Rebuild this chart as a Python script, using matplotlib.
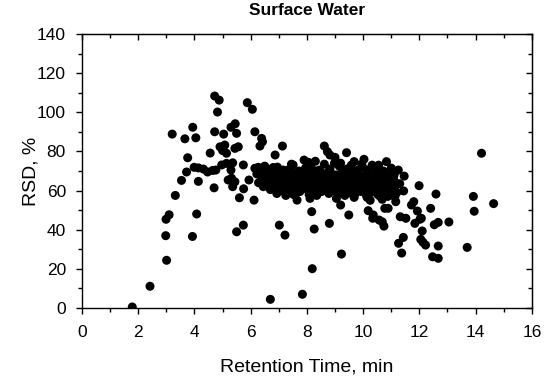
import matplotlib
matplotlib.use("Agg")
import matplotlib.pyplot as plt
import numpy as np

plt.rcParams['font.family'] = ['Liberation Sans', 'DejaVu Sans']

title = "Surface Water"
xlabel = "Retention Time, min"
ylabel = "RSD, %"

# Sparse / outlying points (retention time, RSD)
sparse_x = [1.79, 2.42, 3.01, 2.98, 3.93, 2.99, 3.10, 4.08, 3.32, 3.54, 3.72, 4.14, 3.76, 3.21, 3.66, 4.05, 3.94, 4.56,
            3.99, 4.14, 4.32, 4.47, 4.65, 4.76, 4.70, 4.72, 4.88, 4.82, 4.72, 5.04, 5.30, 5.45, 5.50,
            4.91, 5.08, 5.14, 5.44, 5.56, 5.00, 4.97, 5.14, 5.36, 5.30, 5.32, 5.44, 5.36, 5.20, 5.60, 5.50, 5.74,
            5.88, 6.06, 6.15, 6.39, 6.42, 6.33, 7.13, 6.87, 5.74, 5.94, 5.75, 6.12, 6.15, 6.27,
            7.02, 7.22, 6.70, 7.84, 8.19, 9.23, 8.17, 8.26, 8.80, 9.49, 10.18, 10.36, 10.34, 10.57, 7.65, 8.11, 9.20, 9.68, 10.14,
            8.62, 8.73, 8.82, 9.00, 9.41, 9.68, 10.03, 7.90, 7.51,
            14.21, 14.64, 13.92, 13.95, 13.70, 13.05, 12.59, 12.40, 12.67, 12.53, 12.67, 12.47, 12.67, 11.99, 11.93, 12.07, 12.02,
            11.84, 12.10, 12.05, 12.13, 12.22, 11.72, 11.80, 11.44, 11.46, 11.32, 11.52, 11.43, 11.26, 11.37,
            10.83, 11.13, 11.25, 11.13, 11.16, 10.89, 10.77, 10.68, 10.74,
            7.45, 8.30, 9.20, 9.95, 8.05, 10.55]
sparse_y = [0.4, 11.0, 24.3, 36.9, 36.5, 45.3, 47.6, 48.0, 57.5, 65.2, 69.5, 64.7, 76.8, 88.9, 86.5, 87.0, 92.4, 79.2,
            71.9, 71.6, 71.0, 69.5, 70.3, 70.5, 61.4, 108.4, 106.3, 100.2, 90.1, 88.9, 92.4, 94.2, 89.3,
            82.4, 83.3, 79.1, 81.6, 82.4, 80.5, 73.1, 73.9, 74.2, 70.5, 66.3, 64.5, 62.0, 65.4, 56.3, 38.9, 42.3,
            105.0, 101.6, 90.1, 86.7, 85.0, 82.8, 82.8, 78.2, 73.1, 65.4, 60.9, 55.1, 71.4, 71.9,
            42.3, 37.2, 4.3, 6.9, 20.0, 27.5, 49.2, 40.3, 43.2, 47.5, 49.7, 47.5, 45.8, 44.9, 55.1, 56.0, 52.6, 56.5, 56.5,
            82.8, 79.9, 78.2, 77.0, 79.4, 74.8, 76.0, 75.6, 73.1,
            79.1, 53.3, 57.0, 49.4, 30.9, 43.9, 58.2, 50.9, 43.7, 42.5, 31.6, 26.1, 25.3, 62.5, 49.5, 45.8, 45.3,
            43.2, 39.3, 35.0, 33.5, 32.1, 52.6, 54.3, 59.8, 67.4, 46.6, 45.8, 36.0, 33.0, 28.0,
            74.8, 69.6, 70.5, 56.8, 54.3, 50.9, 50.9, 44.0, 41.8,
            73.5, 75.0, 74.0, 73.5, 74.5, 73.0]

# Dense band of points (6-11.3 min, ~55-75 %)
band_x = [6.22, 6.28, 6.35, 6.40, 6.45, 6.50, 6.55, 6.58, 6.62, 6.66, 6.70, 6.73, 6.78, 6.82, 6.85, 6.90, 6.93, 6.97,
          7.00, 7.04, 7.07, 7.10, 7.14, 7.18, 7.21, 7.25, 7.28, 7.32, 7.35, 7.38, 7.42, 7.45, 7.48, 7.52, 7.55, 7.58,
          7.62, 7.65, 7.68, 7.72, 7.75, 7.78, 7.82, 7.85, 7.88, 7.92, 7.95, 7.98,
          8.02, 8.05, 8.08, 8.12, 8.15, 8.18, 8.22, 8.25, 8.28, 8.32, 8.35, 8.38, 8.42, 8.45, 8.48, 8.52, 8.55, 8.58,
          8.62, 8.65, 8.68, 8.72, 8.75, 8.78, 8.82, 8.85, 8.88, 8.92, 8.95, 8.98,
          9.02, 9.05, 9.08, 9.12, 9.15, 9.18, 9.22, 9.25, 9.28, 9.32, 9.35, 9.38, 9.42, 9.45, 9.48, 9.52, 9.55, 9.58,
          9.62, 9.65, 9.68, 9.72, 9.75, 9.78, 9.82, 9.85, 9.88, 9.92, 9.95, 9.98,
          10.02, 10.05, 10.08, 10.12, 10.15, 10.18, 10.22, 10.25, 10.28, 10.32, 10.35, 10.38, 10.42, 10.45, 10.48,
          10.52, 10.55, 10.58, 10.62, 10.65, 10.68, 10.72, 10.75, 10.78, 10.82, 10.85, 10.88, 10.92, 10.95, 10.98,
          11.02, 11.05, 11.08, 11.12, 11.15, 11.20,
          6.50, 6.80, 7.05, 7.30, 7.50, 7.70, 7.90, 8.10, 8.30, 8.50, 8.70, 8.90, 9.10, 9.30, 9.50, 9.70, 9.90,
          10.10, 10.30, 10.50, 10.70, 10.90, 11.10, 7.15, 7.45, 7.75, 8.05, 8.35, 8.65, 8.95, 9.25, 9.55, 9.85,
          10.15, 10.45, 10.75, 11.00, 6.95, 7.25, 7.60, 8.40, 9.05, 9.60, 10.25, 10.60, 11.30]
band_y = [68.5, 64.0, 70.0, 66.5, 62.0, 68.0, 65.0, 71.0, 63.5, 67.5, 60.5, 65.5, 69.5, 62.5, 66.0, 64.0, 58.5, 67.0,
          63.0, 69.0, 65.5, 61.0, 67.5, 64.0, 59.5, 66.5, 62.5, 70.5, 64.5, 60.0, 67.0, 63.0, 65.5, 58.0, 68.5, 61.5,
          64.5, 66.5, 62.0, 70.0, 59.5, 65.0, 63.0, 67.5, 61.0, 64.0, 71.5, 66.0,
          62.5, 68.5, 58.0, 65.0, 72.0, 63.5, 67.0, 60.5, 69.5, 64.5, 57.5, 66.5, 62.0, 70.5, 65.0, 59.5, 67.5, 63.0,
          73.5, 61.0, 66.0, 69.0, 64.0, 58.5, 71.0, 62.5, 67.5, 65.5, 60.0, 74.0,
          63.5, 68.0, 61.0, 66.0, 72.5, 59.0, 64.5, 69.5, 62.0, 67.0, 57.5, 65.0, 71.0, 63.0, 68.5, 60.5, 66.0, 73.0,
          62.5, 64.5, 69.0, 58.5, 66.5, 61.5, 70.5, 64.0, 67.5, 59.5, 63.0, 72.0,
          65.5, 61.0, 68.0, 57.5, 64.0, 70.5, 62.5, 66.5, 59.0, 73.0, 63.5, 67.5, 60.5, 65.0, 71.5,
          58.0, 64.5, 68.5, 61.5, 66.0, 55.5, 70.0, 63.0, 59.5, 67.0, 62.0, 57.0, 65.5, 60.5, 68.5,
          63.5, 58.5, 66.0, 61.5, 64.0, 59.0,
          72.5, 71.8, 60.0, 67.8, 62.0, 64.2, 68.5, 61.5, 66.0, 63.5, 60.0, 64.0, 67.5, 61.5, 64.0, 62.0, 66.0,
          62.5, 65.5, 62.0, 64.5, 61.0, 68.0, 70.5, 69.5, 67.0, 64.0, 70.0, 65.5, 68.0, 65.0, 70.0, 60.5,
          67.0, 69.0, 65.5, 71.5, 72.0, 57.5, 59.0, 59.0, 56.0, 58.5, 55.0, 57.0, 63.5]

x_all = sparse_x + band_x
y_all = sparse_y + band_y

fig = plt.figure(figsize=(5.5, 3.79), dpi=100)
ax = fig.add_axes([0.149, 0.188, 0.818, 0.7215])

ax.scatter(x_all, y_all, s=42, c='black', edgecolors='none', zorder=3)

ax.set_xlim(0, 16)
ax.set_ylim(0, 140)
ax.set_xticks(np.arange(0, 17, 2))
ax.set_xticks(np.arange(0, 17, 1), minor=True)
ax.set_yticks(np.arange(0, 141, 20))
ax.set_yticks(np.arange(0, 141, 10), minor=True)

for sp in ax.spines.values():
    sp.set_linewidth(1.0)

ax.tick_params(which='major', direction='out', length=4.5, width=1.0, labelsize=12.5)
ax.tick_params(axis='x', which='major', pad=8)
ax.tick_params(axis='y', which='major', pad=7)
ax.tick_params(which='minor', direction='out', length=3, width=1.0)

# inward ticks on top and right
secx = ax.secondary_xaxis('top')
secx.set_xticks(np.arange(0, 17, 2))
secx.set_xticks(np.arange(0, 17, 1), minor=True)
secx.tick_params(which='major', direction='in', length=4.5, width=1.0, labeltop=False)
secx.tick_params(which='minor', direction='in', length=3, width=1.0)
secx.set_xticklabels([])
secy = ax.secondary_yaxis('right')
secy.set_yticks(np.arange(0, 141, 20))
secy.set_yticks(np.arange(0, 141, 10), minor=True)
secy.tick_params(which='major', direction='in', length=4.5, width=1.0, labelright=False)
secy.tick_params(which='minor', direction='in', length=3, width=1.0)
secy.set_yticklabels([])

ax.set_xlabel(xlabel, fontsize=14, labelpad=13)
ax.set_ylabel(ylabel, fontsize=14, labelpad=-2)
fig.text(0.5 * (0.149 + 0.967), 0.972, title, fontsize=12.5, fontweight='bold', ha='center', va='center')

fig.savefig('out.png', dpi=100)
